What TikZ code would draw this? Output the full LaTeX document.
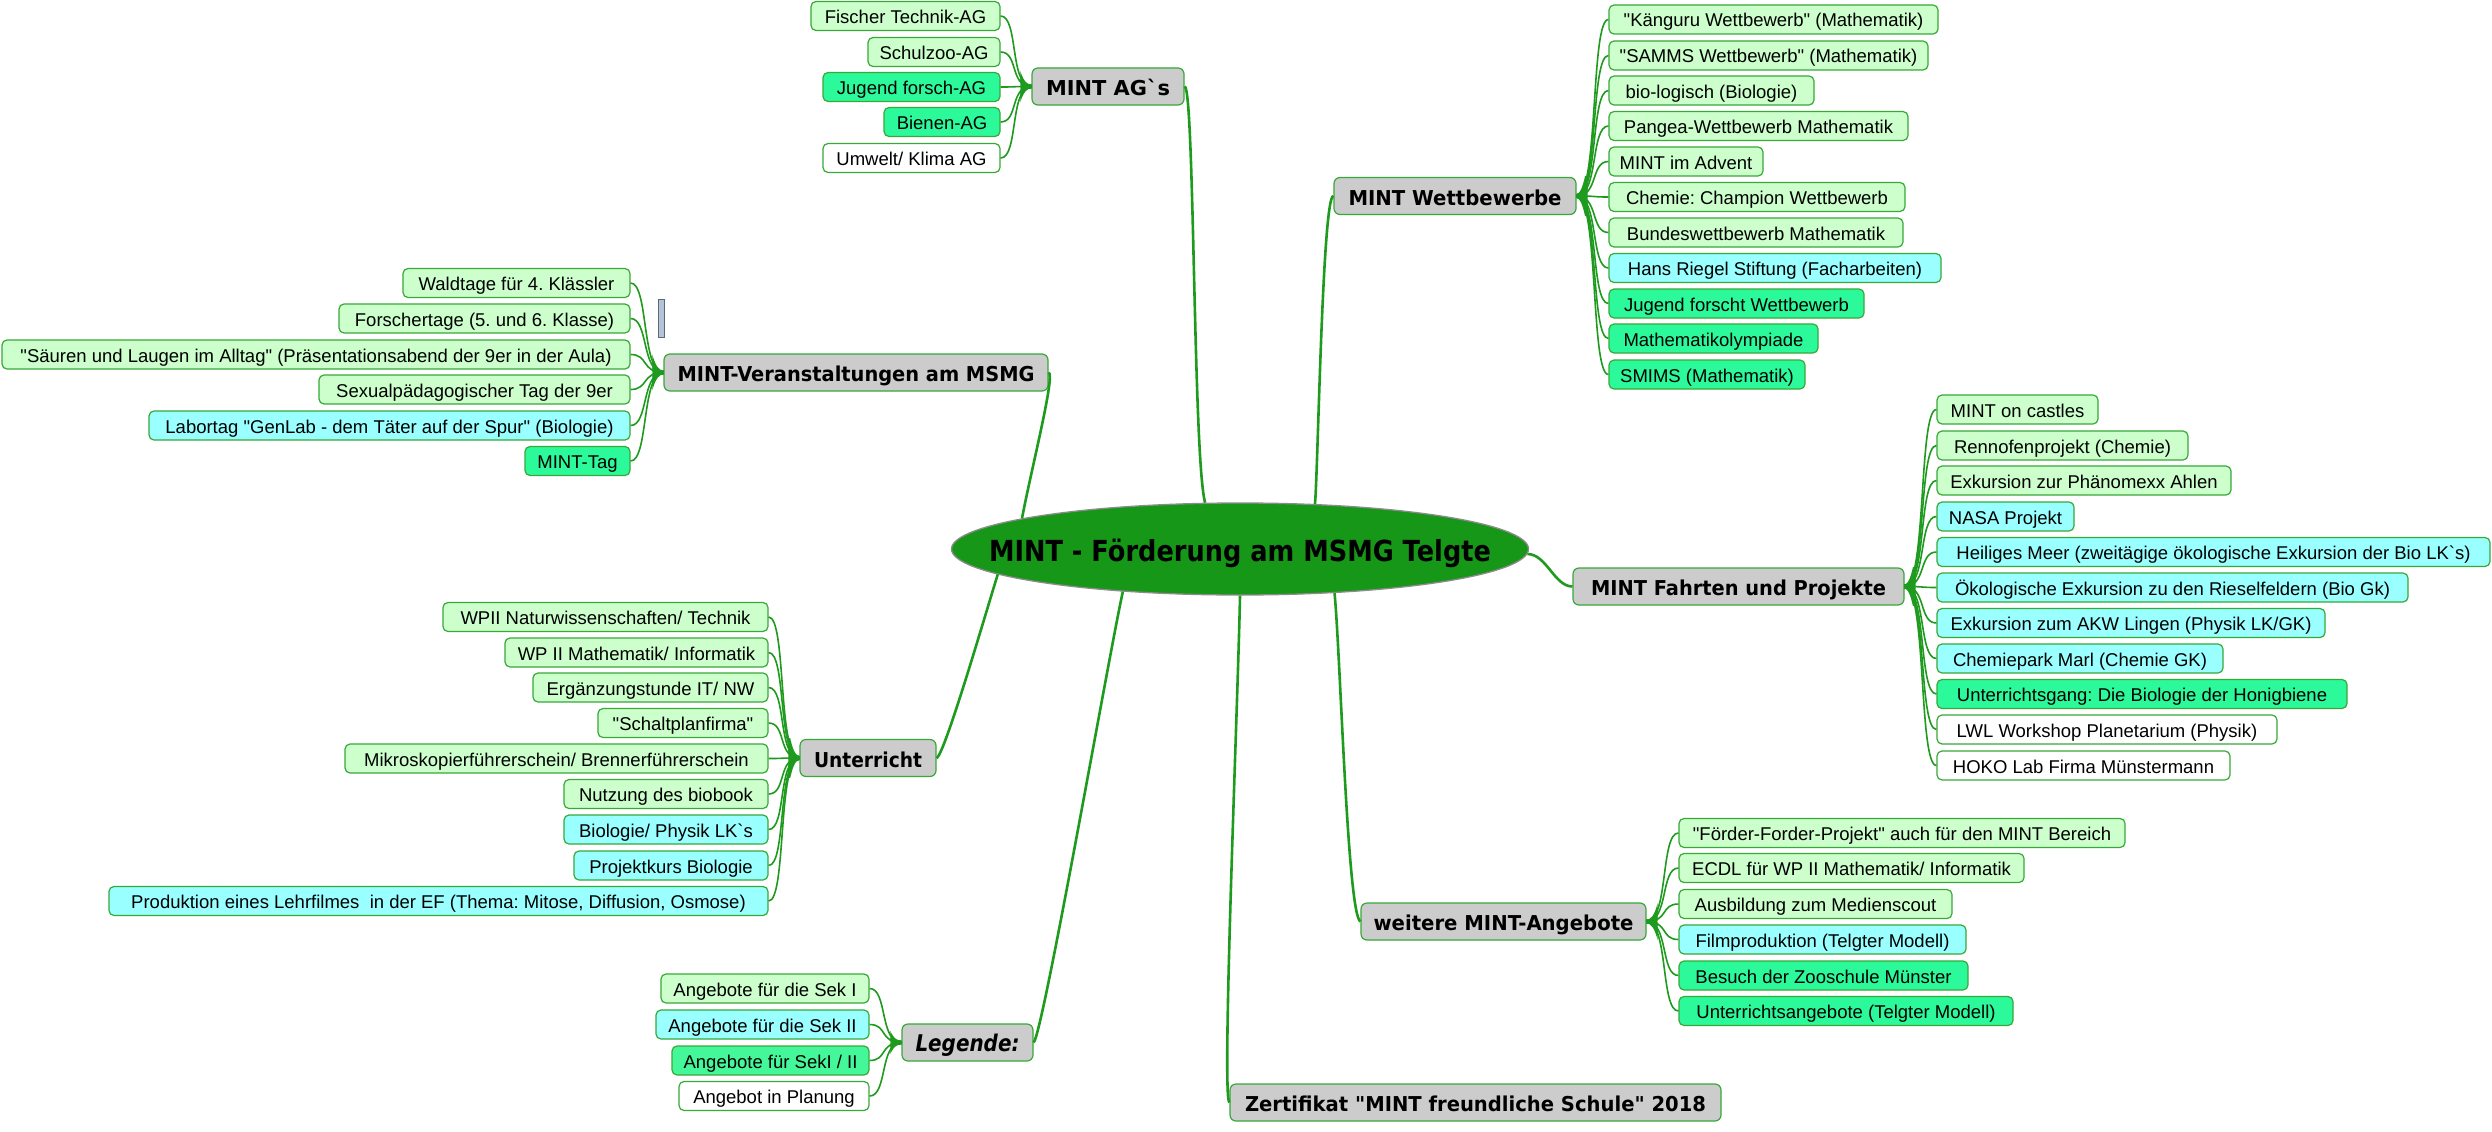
\documentclass[tikz,border=0pt]{standalone}
\usepackage{fontspec}
\usepackage{graphicx}
\usetikzlibrary{shapes.geometric}
\newfontfamily\libsans{Liberation Sans}[Ligatures=TeXOff]
\newfontfamily\comicf{DejaVu Sans}[Ligatures=TeXOff]
\frenchspacing
\definecolor{lgreen}{HTML}{CCFFCC}
\definecolor{cyanf}{HTML}{99FFFF}
\definecolor{bgreen}{HTML}{2CFA9A}
\definecolor{bgreenb}{HTML}{44F89A}
\definecolor{grayf}{HTML}{CCCCCC}
\definecolor{bord}{HTML}{38A838}
\definecolor{lineg}{HTML}{1E9A1E}
\definecolor{rootg}{HTML}{169718}
\definecolor{barfill}{HTML}{B4C4D6}
\definecolor{bardraw}{HTML}{5A6A7C}
\tikzset{
 leafbase/.style={rounded corners=5pt, draw=bord, line width=1.2pt, minimum height=29, inner sep=0pt,
   text height=19pt, text depth=4pt, font=\libsans\frenchspacing\fontsize{18.5pt}{22pt}\selectfont, text=black},
 lg/.style={leafbase, fill=lgreen},
 cy/.style={leafbase, fill=cyanf},
 bg/.style={leafbase, fill=bgreen},
 bgb/.style={leafbase, fill=bgreenb},
 wh/.style={leafbase, fill=white},
 brbox/.style={rounded corners=6pt, draw=bord, line width=1.2pt, fill=grayf, minimum height=37, inner sep=0pt,
   text height=22pt, text depth=4pt, font=\comicf\bfseries\fontsize{20.5pt}{24pt}\selectfont},
 rootell/.style={ellipse, draw=black!45, line width=1.3pt, fill=rootg, minimum width=577, minimum height=92, inner sep=0pt},
 roottext/.style={inner sep=0pt, text height=28pt, text depth=4pt, font=\comicf\bfseries\fontsize{29pt}{33pt}\selectfont},
 kid/.style={draw=lineg, line width=1.6pt},
 kidthick/.style={draw=lineg, line width=3.8pt},
 trunk/.style={draw=lineg, line width=2.6pt},
}
\newcommand\leaf[6]{\node[#2, minimum width={#4-#3}] (#1) at ({(#3+#4)/2},#5) {#6};}
\newcommand\branchbox[6]{\node[brbox, minimum width={#3-#2}] (#1) at ({(#2+#3)/2},#4) {\resizebox{#5pt}{\height}{#6}};}
\newcommand\fanR[2]{%
 \foreach \c in {#2}{\draw[kid] (#1.east) .. controls +(22,0) and +(-18,0) .. (\c.west);}
 \begin{scope}\clip ([xshift=-2pt]#1.north east) rectangle ([xshift=11pt]#1.south east);
 \foreach \c in {#2}{\draw[kidthick] (#1.east) .. controls +(22,0) and +(-18,0) .. (\c.west);}
 \end{scope}}
\newcommand\fanL[2]{%
 \foreach \c in {#2}{\draw[kid] (#1.west) .. controls +(-22,0) and +(18,0) .. (\c.east);}
 \begin{scope}\clip ([xshift=2pt]#1.north west) rectangle ([xshift=-11pt]#1.south west);
 \foreach \c in {#2}{\draw[kidthick] (#1.west) .. controls +(-22,0) and +(18,0) .. (\c.east);}
 \end{scope}}
\begin{document}
\begin{tikzpicture}[x=1pt, y=-1pt]
\fill[white] (0,0) rectangle (2492,1132);
\useasboundingbox (0,0) rectangle (2492,1132);

% root
\node[rootell] (root) at (1240,549) {};
\node[roottext] (roottxt) at (root.center) {\resizebox{502pt}{\height}{MINT - Förderung am MSMG Telgte}};

% branches
\branchbox{ag}{1032}{1184}{86.5}{124}{MINT AG`s}
\branchbox{wb}{1334}{1576}{196}{213}{MINT Wettbewerbe}
\branchbox{ver}{664}{1048}{372.5}{357}{MINT-Veranstaltungen am MSMG}
\branchbox{fp}{1573}{1904}{586.5}{295}{MINT Fahrten und Projekte}
\branchbox{unt}{800}{936}{758}{108}{Unterricht}
\branchbox{wei}{1361}{1646}{921.5}{260}{weitere MINT-Angebote}
\branchbox{leg}{902}{1033}{1042.5}{104}{\itshape\fontsize{23pt}{26pt}\selectfont Legende:}
\branchbox{zert}{1230}{1721}{1102.5}{461}{Zertifikat "MINT freundliche Schule" 2018}

% MINT AG`s
\leaf{a1}{lg}{811}{1000}{16}{Fischer Technik-AG}
\leaf{a2}{lg}{868}{1000}{52}{Schulzoo-AG}
\leaf{a3}{bg}{823}{1000}{87}{Jugend forsch-AG}
\leaf{a4}{bg}{884}{1000}{122}{Bienen-AG}
\leaf{a5}{wh}{823}{1000}{158}{Umwelt/ Klima AG}

% Wettbewerbe
\leaf{w1}{lg}{1609}{1938}{19.5}{"Känguru Wettbewerb" (Mathematik)}
\leaf{w2}{lg}{1609}{1928}{55.5}{"SAMMS Wettbewerb" (Mathematik)}
\leaf{w3}{lg}{1609}{1814}{90.5}{bio-logisch (Biologie)}
\leaf{w4}{lg}{1609}{1908}{126}{Pangea-Wettbewerb Mathematik}
\leaf{w5}{lg}{1609}{1763}{161.5}{MINT im Advent}
\leaf{w6}{lg}{1609}{1905}{197}{Chemie: Champion Wettbewerb}
\leaf{w7}{lg}{1609}{1903}{232.5}{Bundeswettbewerb Mathematik}
\leaf{w8}{cy}{1609}{1941}{268}{Hans Riegel Stiftung (Facharbeiten)}
\leaf{w9}{bg}{1609}{1864}{303.5}{Jugend forscht Wettbewerb}
\leaf{w10}{bg}{1609}{1818}{338.5}{Mathematikolympiade}
\leaf{w11}{bg}{1609}{1805}{374.5}{SMIMS (Mathematik)}

% Veranstaltungen
\leaf{v1}{lg}{403}{630}{283}{Waldtage für 4. Klässler}
\leaf{v2}{lg}{339}{630}{318.5}{Forschertage (5. und 6. Klasse)}
\leaf{v3}{lg}{2}{630}{354.5}{"Säuren und Laugen im Alltag" (Präsentationsabend der 9er in der Aula)}
\leaf{v4}{lg}{319}{630}{389.5}{Sexualpädagogischer Tag der 9er}
\leaf{v5}{cy}{149}{630}{425.5}{Labortag "GenLab - dem Täter auf der Spur" (Biologie)}
\leaf{v6}{bg}{525}{630}{461}{MINT-Tag}
\filldraw[fill=barfill, draw=bardraw, line width=1pt] (658,299) rectangle (664,337);

% Fahrten
\leaf{f1}{lg}{1937}{2098}{409.5}{MINT on castles}
\leaf{f2}{lg}{1937}{2188}{445.5}{Rennofenprojekt (Chemie)}
\leaf{f3}{lg}{1937}{2231}{480.5}{Exkursion zur Phänomexx Ahlen}
\leaf{f4}{cy}{1937}{2074}{516.5}{NASA Projekt}
\leaf{f5}{cy}{1937}{2490}{552}{Heiliges Meer (zweitägige ökologische Exkursion der Bio LK`s)}
\leaf{f6}{cy}{1937}{2408}{587.5}{Ökologische Exkursion zu den Rieselfeldern (Bio Gk)}
\leaf{f7}{cy}{1937}{2325}{623}{Exkursion zum AKW Lingen (Physik LK/GK)}
\leaf{f8}{cy}{1937}{2223}{658.5}{Chemiepark Marl (Chemie GK)}
\leaf{f9}{bg}{1937}{2347}{694}{Unterrichtsgang: Die Biologie der Honigbiene}
\leaf{f10}{wh}{1937}{2277}{729.5}{LWL Workshop Planetarium (Physik)}
\leaf{f11}{wh}{1937}{2230}{765.5}{HOKO Lab Firma Münstermann}

% Unterricht
\leaf{u1}{lg}{443}{768}{617}{WPII Naturwissenschaften/ Technik}
\leaf{u2}{lg}{505}{768}{652.5}{WP II Mathematik/ Informatik}
\leaf{u3}{lg}{533}{768}{687.5}{Ergänzungstunde IT/ NW}
\leaf{u4}{lg}{598}{768}{723}{"Schaltplanfirma"}
\leaf{u5}{lg}{345}{768}{758.5}{Mikroskopierführerschein/ Brennerführerschein}
\leaf{u6}{lg}{564}{768}{794}{Nutzung des biobook}
\leaf{u7}{cy}{564}{768}{829.5}{Biologie/ Physik LK`s}
\leaf{u8}{cy}{574}{768}{865.5}{Projektkurs Biologie}
\leaf{u9}{cy}{109}{768}{901}{Produktion eines Lehrfilmes\ \ in der EF (Thema: Mitose, Diffusion, Osmose)}

% weitere
\leaf{e1}{lg}{1679}{2125}{833}{"Förder-Forder-Projekt" auch für den MINT Bereich}
\leaf{e2}{lg}{1679}{2024}{868}{ECDL für WP II Mathematik/ Informatik}
\leaf{e3}{lg}{1679}{1952}{904}{Ausbildung zum Medienscout}
\leaf{e4}{cy}{1679}{1966}{939.5}{Filmproduktion (Telgter Modell)}
\leaf{e5}{bg}{1679}{1968}{975.5}{Besuch der Zooschule Münster}
\leaf{e6}{bg}{1679}{2013}{1011}{Unterrichtsangebote (Telgter Modell)}

% Legende
\leaf{l1}{lg}{661}{869}{988.5}{Angebote für die Sek I}
\leaf{l2}{cy}{656}{869}{1024.5}{Angebote für die Sek II}
\leaf{l3}{bgb}{672}{869}{1060.5}{Angebote für SekI / II}
\leaf{l4}{wh}{679}{869}{1096}{Angebot in Planung}

% fans
\fanL{ag}{a1,a2,a3,a4,a5}
\fanR{wb}{w1,w2,w3,w4,w5,w6,w7,w8,w9,w10,w11}
\fanL{ver}{v1,v2,v3,v4,v5,v6}
\fanR{fp}{f1,f2,f3,f4,f5,f6,f7,f8,f9,f10,f11}
\fanL{unt}{u1,u2,u3,u4,u5,u6,u7,u8,u9}
\fanR{wei}{e1,e2,e3,e4,e5,e6}
\fanL{leg}{l1,l2,l3,l4}

% trunks
\draw[trunk] (ag.east) .. controls +(10,0) and +(-12,-43) .. (root.127);
\draw[trunk] (wb.west) .. controls +(-11,0) and +(3,-33) .. (root.31);
\draw[trunk] (ver.east) .. controls +(7,2) and +(9,-48) .. (root.172);
\draw[trunk] (root.-1) .. controls +(19,0) and +(-18,0) .. (fp.west);
\draw[trunk] (unt.east) .. controls +(8,-3) and +(-11,35) .. (root.186);
\draw[trunk] (leg.east) .. controls +(9,-7) and +(-13,58) .. (root.200.7);
\draw[trunk] (zert.west) .. controls +(-8,-4) and +(-2,105) .. (root.270);
\draw[trunk] (root.-25.6) .. controls +(6,62) and +(-13,-7) .. (wei.west);
\end{tikzpicture}
\end{document}
